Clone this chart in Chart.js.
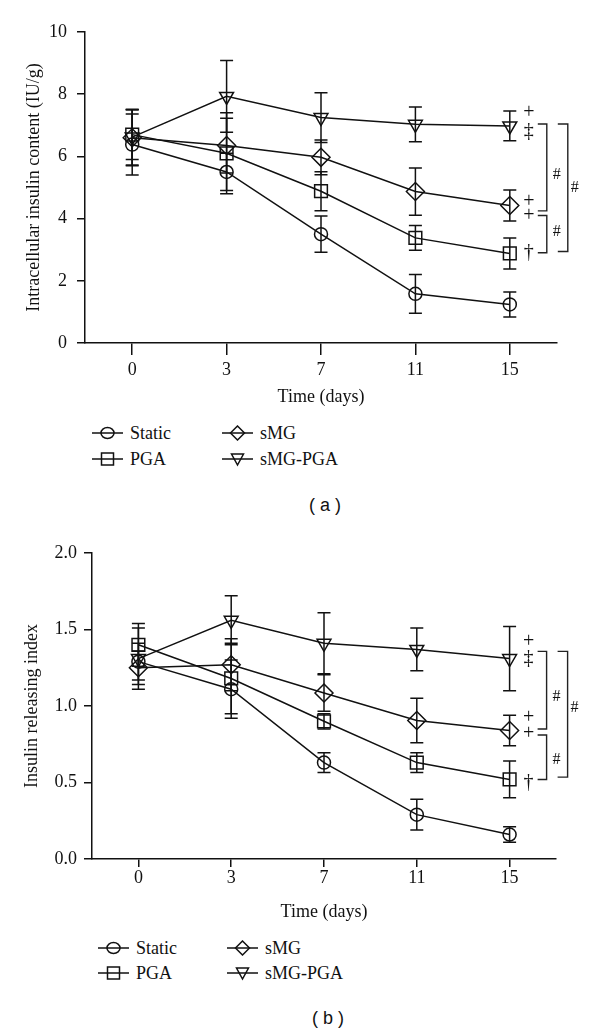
<!DOCTYPE html>
<html>
<head>
<meta charset="utf-8">
<script src="https://cdn.jsdelivr.net/npm/chart.js@4.4.1/dist/chart.umd.min.js"></script>
<style>
  body { margin: 0; background: #fff; }
  #page { position: relative; width: 600px; height: 1036px; overflow: hidden; font-family: "Liberation Serif", serif; color: #111; }
  canvas { position: absolute; left: 0; }
  .lg { position: absolute; font-size: 18px; line-height: 20px; white-space: nowrap; }
  .lg svg { position: absolute; left: 0; top: 2px; }
  .tag { position: absolute; font-family: "Liberation Sans", sans-serif; font-size: 18px; transform: translate(-50%, -50%); white-space: pre; }
</style>
</head>
<body>
<div id="page">
  <canvas id="chartA" width="600" height="412" style="top:0"></canvas>
  <div id="legendA"></div>
  <div class="tag" style="left:325px; top:505px">( a )</div>

  <canvas id="chartB" width="600" height="407" style="top:520px"></canvas>
  <div id="legendB"></div>
  <div class="tag" style="left:328px; top:1018px">( b )</div>
</div>
<script>
const days = ['0', '3', '7', '11', '15'];
const groups = ['Static', 'PGA', 'sMG', 'sMG-PGA'];

// (a) intracellular insulin content (IU/g), mean and error
const contentStatic = [6.38, 5.5, 3.5, 1.58, 1.24];
const contentPGA = [6.7, 6.1, 4.88, 3.38, 2.88];
const contentSMG = [6.6, 6.35, 5.97, 4.87, 4.42];
const contentSMGPGA = [6.62, 7.93, 7.25, 7.03, 6.98];
const contentStaticErr = [0.98, 0.6, 0.58, 0.62, 0.4];
const contentPGAErr = [0.8, 1.3, 0.63, 0.4, 0.5];
const contentSMGErr = [0.9, 0.88, 0.56, 0.76, 0.5];
const contentSMGPGAErr = [0.9, 1.15, 0.8, 0.56, 0.48];

// (b) insulin releasing index, mean and error
const indexStatic = [1.29, 1.11, 0.63, 0.29, 0.16];
const indexPGA = [1.4, 1.18, 0.9, 0.63, 0.52];
const indexSMG = [1.25, 1.27, 1.085, 0.905, 0.84];
const indexSMGPGA = [1.31, 1.56, 1.41, 1.37, 1.31];
const indexStaticErr = [0.12, 0.19, 0.065, 0.1, 0.05];
const indexPGAErr = [0.14, 0.23, 0.05, 0.065, 0.12];
const indexSMGErr = [0.11, 0.17, 0.12, 0.145, 0.1];
const indexSMGPGAErr = [0.2, 0.16, 0.2, 0.14, 0.21];

// significance marks at day 15: [symbol, value]
const marksA = [['+', 7.4], ['‡', 6.78], ['+', 4.53], ['+', 4.1], ['†', 2.9]];
const innerBracketsA = [[7.04, 4.25], [4.1, 2.9]];
const outerBracketA = [7.04, 2.94];
const hashLevelsA = [5.4, 3.58, 4.98];

const marksB = [['+', 1.42], ['‡', 1.31], ['+', 0.92], ['+', 0.82], ['†', 0.5]];
const innerBracketsB = [[1.357, 0.85], [0.81, 0.52]];
const outerBracketB = [1.357, 0.535];
const hashLevelsB = [1.06, 0.65, 0.99];

const yTicksA = [0, 2, 4, 6, 8, 10];
const yTicksB = [0, 0.5, 1.0, 1.5, 2.0];

const INK = '#111';
const pointStyles = ['circle', 'rect', 'rectRot', 'triangle'];
const pointRadii = [6.5, 9, 9, 8];

function makeDatasets(means, errs) {
    return groups.map((g, i) => ({
        label: g,
        data: means[i],
        errorBars: errs[i],
        borderColor: INK,
        borderWidth: 1.5,
        backgroundColor: 'rgba(0,0,0,0)',
        pointStyle: pointStyles[i],
        pointRadius: pointRadii[i],
        pointBorderWidth: 1.5,
        pointBorderColor: INK,
        pointBackgroundColor: 'rgba(0,0,0,0)',
        pointRotation: i === 3 ? 180 : 0,
        tension: 0
    }));
}

const errorBarPlugin = {
    id: 'errorBars',
    afterDatasetsDraw(chart) {
        const ctx = chart.ctx;
        const y = chart.scales.y;
        ctx.save();
        ctx.strokeStyle = INK;
        ctx.lineWidth = 1.5;
        chart.data.datasets.forEach((ds, i) => {
            const meta = chart.getDatasetMeta(i);
            meta.data.forEach((pt, j) => {
                const top = y.getPixelForValue(ds.data[j] + ds.errorBars[j]);
                const bot = y.getPixelForValue(ds.data[j] - ds.errorBars[j]);
                ctx.beginPath();
                ctx.moveTo(pt.x, top); ctx.lineTo(pt.x, bot);
                ctx.moveTo(pt.x - 6.5, top); ctx.lineTo(pt.x + 6.5, top);
                ctx.moveTo(pt.x - 6.5, bot); ctx.lineTo(pt.x + 6.5, bot);
                ctx.stroke();
            });
        });
        ctx.restore();
    }
};

const signifPlugin = {
    id: 'signif',
    afterDraw(chart, args, opts) {
        const ctx = chart.ctx;
        const y = chart.scales.y;
        const x15 = chart.scales.x.getPixelForValue(days.length - 1);
        ctx.save();
        ctx.fillStyle = INK;
        ctx.strokeStyle = '#222';
        ctx.lineWidth = 1.4;
        ctx.textAlign = 'center';
        ctx.textBaseline = 'middle';
        ctx.font = '20px "Liberation Serif"';
        opts.marks.forEach(([s, v]) => ctx.fillText(s, x15 + 19, y.getPixelForValue(v)));

        const bracket = (x0, x1, v0, v1) => {
            const t = y.getPixelForValue(v0), b = y.getPixelForValue(v1);
            ctx.beginPath();
            ctx.moveTo(x0, t); ctx.lineTo(x1, t); ctx.lineTo(x1, b); ctx.lineTo(x0, b);
            ctx.stroke();
        };
        opts.inner.forEach(([a, b]) => bracket(x15 + 28, x15 + 37, a, b));
        bracket(x15 + 48, x15 + 58, opts.outer[0], opts.outer[1]);

        ctx.font = '16px "Liberation Serif"';
        ctx.fillText('#', x15 + 47, y.getPixelForValue(opts.hashes[0]));
        ctx.fillText('#', x15 + 47, y.getPixelForValue(opts.hashes[1]));
        ctx.fillText('#', x15 + 65, y.getPixelForValue(opts.hashes[2]));
        ctx.restore();
    }
};

function makeChart(id, cfg) {
    const serif = { family: 'Liberation Serif', size: 18 };
    return new Chart(document.getElementById(id), {
        type: 'line',
        data: { labels: days, datasets: makeDatasets(cfg.means, cfg.errs) },
        plugins: [errorBarPlugin, signifPlugin],
        options: {
            responsive: false,
            animation: false,
            layout: { padding: { left: 0, right: cfg.padRight, top: cfg.padTop, bottom: 0 } },
            plugins: {
                legend: { display: false },
                tooltip: { enabled: false },
                signif: cfg.signif
            },
            scales: {
                x: {
                    offset: true,
                    afterFit: s => { s.height = cfg.xHeight; },
                    grid: { display: true, offset: false, drawOnChartArea: false, drawTicks: true, tickLength: cfg.xTick, color: INK, lineWidth: 1.5 },
                    border: { display: true, color: INK, width: 1.5 },
                    ticks: { font: serif, color: INK, padding: cfg.xPad, maxRotation: 0 },
                    title: { display: true, text: 'Time (days)', font: serif, color: INK, padding: { top: 0, bottom: 4 } }
                },
                y: {
                    min: 0,
                    max: cfg.yTicks[cfg.yTicks.length - 1],
                    afterFit: s => { s.width = cfg.yWidth; },
                    afterBuildTicks: s => { s.ticks = cfg.yTicks.map(v => ({ value: v })); },
                    grid: { display: true, drawOnChartArea: false, drawTicks: true, tickLength: 8, color: INK, lineWidth: 1.5 },
                    border: { display: true, color: INK, width: 1.5 },
                    ticks: { font: serif, color: INK, padding: cfg.yPad, callback: cfg.fmt },
                    title: { display: true, text: cfg.yTitle, font: serif, color: INK, padding: { top: cfg.yTitlePad, bottom: 0 } }
                }
            }
        }
    });
}

makeChart('chartA', {
    means: [contentStatic, contentPGA, contentSMG, contentSMGPGA],
    errs: [contentStaticErr, contentPGAErr, contentSMGErr, contentSMGPGAErr],
    yTicks: yTicksA, fmt: v => String(v),
    yTitle: 'Intracellular insulin content (IU/g)',
    padRight: 43, padTop: 32, xHeight: 69, xTick: 12, xPad: 4,
    yWidth: 85, yPad: 10, yTitlePad: 23,
    signif: { marks: marksA, inner: innerBracketsA, outer: outerBracketA, hashes: hashLevelsA }
});

makeChart('chartB', {
    means: [indexStatic, indexPGA, indexSMG, indexSMGPGA],
    errs: [indexStaticErr, indexPGAErr, indexSMGErr, indexSMGPGAErr],
    yTicks: yTicksB, fmt: v => v.toFixed(1),
    yTitle: 'Insulin releasing index',
    padRight: 44, padTop: 33, xHeight: 68, xTick: 8, xPad: 0,
    yWidth: 92, yPad: 7, yTitlePad: 21,
    signif: { marks: marksB, inner: innerBracketsB, outer: outerBracketB, hashes: hashLevelsB }
});

// legends: line with hollow marker, then the group name
const legendIcons = [
    '<ellipse cx="15.5" cy="8" rx="6.5" ry="5.5"/>',
    '<rect x="9.5" y="2" width="12" height="12"/>',
    '<polygon points="15.5,1 22.5,8 15.5,15 8.5,8"/>',
    '<polygon points="9.5,3 21.5,3 15.5,14"/>'
];

function buildLegend(id, cols, rows) {
    const order = [[0, 0, 0], [2, 1, 0], [1, 0, 1], [3, 1, 1]]; // group, col, row
    document.getElementById(id).innerHTML = order.map(([g, c, r]) => `
        <div class="lg" style="left:${cols[c]}px; top:${rows[r] - 10}px; padding-left:38px">
            <svg width="32" height="16" fill="none" stroke="${INK}" stroke-width="1.5">
                <line x1="0" y1="8" x2="31" y2="8"/>${legendIcons[g]}
            </svg>${groups[g]}
        </div>`).join('');
}

buildLegend('legendA', [92, 222], [433, 459]);
buildLegend('legendB', [98, 227], [948, 973]);
</script>
</body>
</html>
